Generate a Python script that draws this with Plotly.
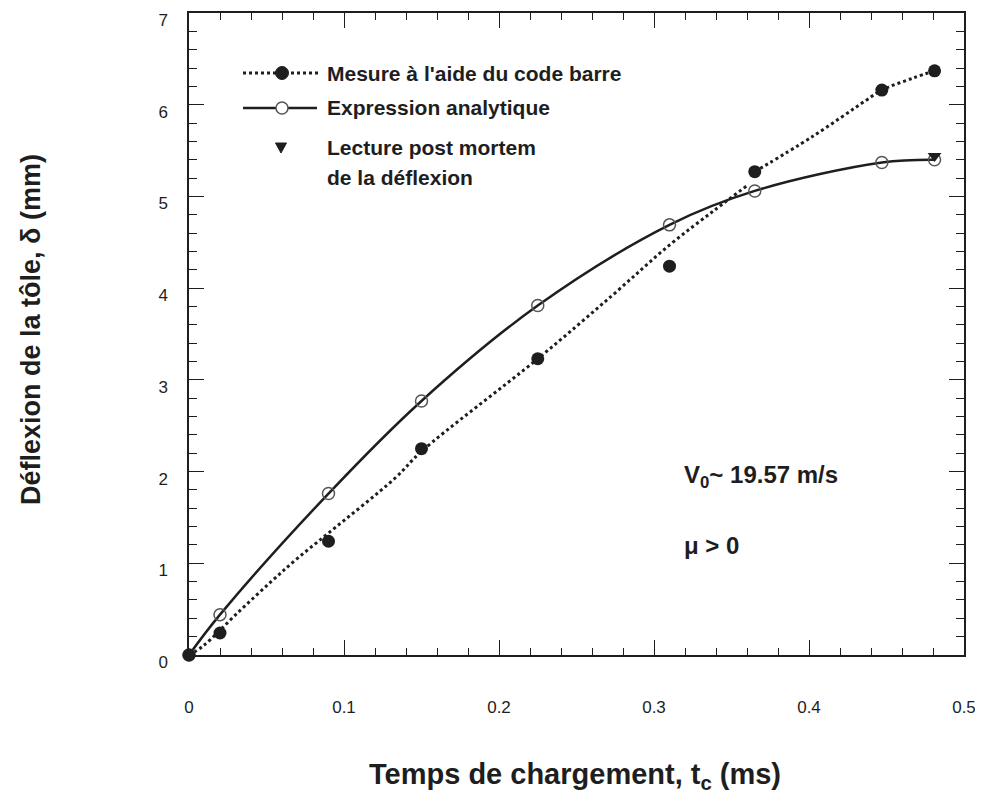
import plotly.graph_objects as go

# ---- data ----
t_mesure = [0, 0.02, 0.09, 0.15, 0.225, 0.31, 0.365, 0.447, 0.481]
d_mesure = [0, 0.24, 1.24, 2.25, 3.23, 4.24, 5.27, 6.16, 6.37]

t_analytique = [0, 0.02, 0.09, 0.15, 0.225, 0.31, 0.365, 0.447, 0.481]
d_analytique = [0, 0.44, 1.76, 2.77, 3.81, 4.69, 5.06, 5.37, 5.40]

t_post_mortem = [0.481]
d_post_mortem = [5.44]

# dotted fit line as drawn in the reference (two segments)
t_fit = [0, 0.0092, 0.032, 0.053, 0.069, 0.09, 0.133, 0.15, 0.225, 0.273, 0.31, 0.339, 0.361,
         None, 0.365, 0.402, 0.437, 0.447, 0.467, 0.481]
d_fit = [0, 0.10, 0.47, 0.80, 1.04, 1.33, 1.93, 2.22, 3.23, 3.92, 4.47, 4.85, 5.13,
         None, 5.27, 5.65, 6.05, 6.16, 6.29, 6.37]

x_ticks = [0, 0.1, 0.2, 0.3, 0.4, 0.5]
x_tick_labels = ["0", "0.1", "0.2", "0.3", "0.4", "0.5"]
y_ticks = [0, 1, 2, 3, 4, 5, 6, 7]
y_tick_labels = ["0", "1", "2", "3", "4", "5", "6", "7"]

legend_labels = ["Mesure à l'aide du code barre", "Expression analytique",
                 "Lecture post mortem", "de la déflexion"]

FONT = "Liberation Sans, Arial, Helvetica, sans-serif"
INK = "#1e1e1e"

# page body has an 8px margin, so the figure is placed 8px lower/right
OFF = 8
W, H = 983 - OFF, 799 - OFF
PL, PT, PR, PB = 189, 13, 964, 655          # plot box in screenshot pixels
L, T = PL - OFF, PT - OFF
R = W - (PR - OFF)
B = H - (PB - OFF)
PW, PH = PR - PL, PB - PT


def px(xp):
    return (xp - PL) / PW


def py(yp):
    return (PB - yp) / PH


fig = go.Figure()

fig.add_trace(go.Scatter(x=t_fit, y=d_fit, mode="lines",
                         line=dict(color=INK, width=3, dash="dot", shape="spline"),
                         connectgaps=False, showlegend=False, hoverinfo="skip"))
fig.add_trace(go.Scatter(x=t_analytique, y=d_analytique, mode="lines+markers",
                         line=dict(color=INK, width=2.5, shape="spline", smoothing=1.0),
                         marker=dict(symbol="circle-open", size=12, color="#555555",
                                     line=dict(width=1.5, color="#555555")),
                         cliponaxis=False, showlegend=False))
fig.add_trace(go.Scatter(x=t_mesure, y=d_mesure, mode="markers",
                         marker=dict(symbol="circle", size=13, color=INK),
                         cliponaxis=False, showlegend=False))
fig.add_trace(go.Scatter(x=t_post_mortem, y=d_post_mortem, mode="markers",
                         marker=dict(symbol="triangle-down", size=12, color=INK),
                         cliponaxis=False, showlegend=False))

axis_common = dict(showline=True, linecolor=INK, linewidth=1.5, mirror="ticks",
                   ticks="inside", tickcolor=INK, tickwidth=1.2, ticklen=15,
                   showgrid=False, zeroline=False, ticklabeloverflow="allow",
                   tickfont=dict(family=FONT, size=17, color=INK))

fig.update_xaxes(range=[0, 0.5], tickvals=x_ticks, ticktext=x_tick_labels,
                 minor=dict(dtick=0.02, ticks="inside", ticklen=7, tickcolor=INK,
                            tickwidth=1.2, showgrid=False),
                 ticklabelstandoff=36, **axis_common)
fig.update_yaxes(range=[0, 7], tickvals=y_ticks, ticktext=y_tick_labels,
                 minor=dict(dtick=0.2, ticks="inside", ticklen=8, tickcolor=INK,
                            tickwidth=1.2, showgrid=False),
                 ticklabelstandoff=16, ticklabelshift=7, **axis_common)

shapes = []
annotations = []

# legend glyphs
lx0, lx1, lmark = 243, 321, 282
ly = [73, 108, 148, 177]
shapes.append(dict(type="line", xref="paper", yref="paper", x0=px(lx0), x1=px(lx1),
                   y0=py(ly[0]), y1=py(ly[0]), line=dict(color=INK, width=3, dash="dot")))
shapes.append(dict(type="circle", xref="paper", yref="paper", xsizemode="pixel", ysizemode="pixel",
                   xanchor=px(lmark), yanchor=py(ly[0]), x0=-6.5, x1=6.5, y0=-6.5, y1=6.5,
                   fillcolor=INK, line=dict(color=INK, width=1)))
shapes.append(dict(type="line", xref="paper", yref="paper", x0=px(lx0), x1=px(lx1 - 4),
                   y0=py(ly[1]), y1=py(ly[1]), line=dict(color=INK, width=2.5)))
shapes.append(dict(type="circle", xref="paper", yref="paper", xsizemode="pixel", ysizemode="pixel",
                   xanchor=px(lmark), yanchor=py(ly[1]), x0=-6, x1=6, y0=-6, y1=6,
                   fillcolor="white", line=dict(color="#555555", width=1.5)))
shapes.append(dict(type="path", xref="paper", yref="paper", xsizemode="pixel", ysizemode="pixel",
                   xanchor=px(lmark - 1), yanchor=py(ly[2]),
                   path="M -5.5 5 L 5.5 5 L 0 -5 Z", fillcolor=INK, line=dict(color=INK, width=1)))

for text, yy in zip(legend_labels, ly):
    annotations.append(dict(text=text, xref="paper", yref="paper", x=px(325), y=py(yy),
                            xanchor="left", yanchor="middle", showarrow=False,
                            font=dict(family=FONT, size=21, color=INK, weight="bold")))

annotations.append(dict(text="V<sub>0</sub>~ 19.57 m/s", xref="paper", yref="paper",
                        x=px(682), y=py(476), xanchor="left", yanchor="middle", showarrow=False,
                        font=dict(family=FONT, size=24, color=INK, weight="bold")))
annotations.append(dict(text="μ > 0", xref="paper", yref="paper",
                        x=px(682), y=py(545), xanchor="left", yanchor="middle", showarrow=False,
                        font=dict(family=FONT, size=24, color=INK, weight="bold")))

annotations.append(dict(text="Temps de chargement, t<sub>c</sub> (ms)", xref="paper", yref="paper",
                        x=px(575), y=py(776), xanchor="center", yanchor="middle", showarrow=False,
                        font=dict(family=FONT, size=29, color=INK, weight="bold")))
annotations.append(dict(text="Déflexion de la tôle, δ (mm)", xref="paper", yref="paper",
                        x=px(31), y=py(330), xanchor="center", yanchor="middle", showarrow=False,
                        textangle=-90,
                        font=dict(family=FONT, size=27, color=INK, weight="bold")))

fig.update_layout(width=W, height=H, margin=dict(l=L, r=R, t=T, b=B, autoexpand=False),
                  paper_bgcolor="white", plot_bgcolor="white",
                  shapes=shapes, annotations=annotations, showlegend=False)

fig.write_html("out.html")
